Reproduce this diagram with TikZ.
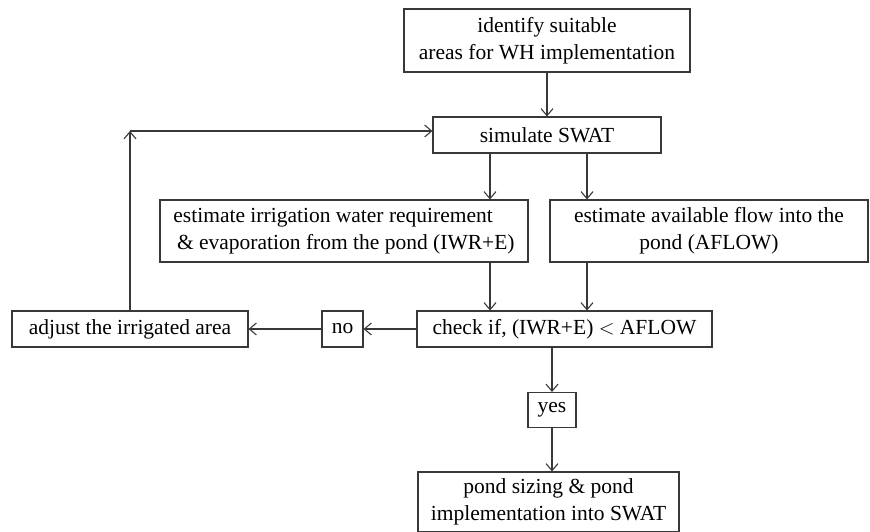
\documentclass[tikz,border=0pt]{standalone}
\usepackage{fontspec}
\setmainfont{Liberation Serif}
\usepackage{tikz}
\usetikzlibrary{arrows.meta}

\begin{document}
\begin{tikzpicture}[x=1pt,y=-1pt,font=\fontsize{21.5}{27}\selectfont]
\tikzstyle{box}=[draw=black!78,line width=1.1pt,inner sep=0pt,align=center]
\tikzstyle{arr}=[draw=black!78,line width=1.1pt,-{Straight Barb[length=7pt,width=12pt]}]
\useasboundingbox (0,0) rectangle (870,532);
\node [box,minimum width=286pt,minimum height=63pt] (ident) at (547,40.5) {identify suitable\\areas for WH implementation};
\node [box,minimum width=228pt,minimum height=36pt] (sim) at (547,135) {simulate SWAT};
\node [box,minimum width=368pt,minimum height=62pt,align=left] (irr) at (344,231) {estimate irrigation water requirement\\\,\& evaporation from the pond (IWR+E)};
\node [box,minimum width=318pt,minimum height=62pt] (aflow) at (709,231) {estimate available flow into the\\pond (AFLOW)};
\node [box,minimum width=295pt,minimum height=36pt] (check) at (564.5,329) {check if, (IWR+E) $<$ AFLOW};
\node [box,minimum width=41pt,minimum height=36pt] (no) at (342.5,329) {no};
\node [box,minimum width=236pt,minimum height=36pt] (adjust) at (130,329) {adjust the irrigated area};
\node [box,minimum width=48pt,minimum height=35pt] (yes) at (552,410) {yes};
\node [box,minimum width=261pt,minimum height=60pt] (pond) at (548.5,502) {pond sizing \& pond\\implementation into SWAT};
% helper points for the connectors
\coordinate (lx) at (490,0);
\coordinate (rx) at (587,0);
\coordinate (corner) at (130,131);
\draw [arr] (ident.south) -- (sim.north);
\draw [arr] (lx |- sim.south) -- (lx |- irr.north);
\draw [arr] (rx |- sim.south) -- (rx |- aflow.north);
\draw [arr] (lx |- irr.south) -- (lx |- check.north);
\draw [arr] (rx |- aflow.south) -- (rx |- check.north);
\draw [arr] (check.west) -- (no.east);
\draw [arr] (no.west) -- (adjust.east);
\draw [arr] (adjust.north) -- (corner);
\draw [arr] (corner) -- (corner -| sim.west);
\draw [arr] (yes |- check.south) -- (yes.north);
\draw [arr] (yes.south) -- (yes |- pond.north);
\end{tikzpicture}
\end{document}
